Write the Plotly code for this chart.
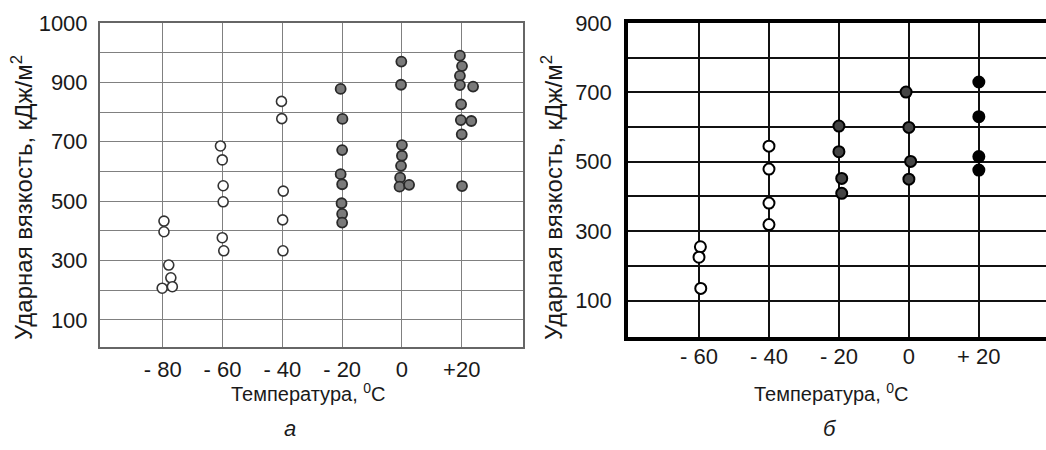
import plotly.graph_objects as go

# ---------- data: panel "а" ----------
a_open_t = [-79.6, -79.6, -78.0, -77.3, -80.2, -76.8,
            -60.7, -60.1, -59.8, -59.8, -60.1, -59.6,
            -40.3, -40.2, -39.7, -39.9, -39.8]
a_open_v = [433, 397, 285, 242, 207, 212,
            686, 639, 552, 498, 377, 333,
            836, 778, 534, 437, 333]
a_half_t = [-20.5, -19.9, -20.0, -20.5, -20.0, -20.2, -20.0, -20.0,
            -0.2, -0.3, 0.0, 0.0, -0.3, -0.6, -0.8, 2.4,
            19.4, 20.1, 19.4, 19.4, 23.8, 19.8, 19.7, 23.2, 20.0, 20.1]
a_half_v = [878, 777, 672, 591, 557, 493, 457, 428,
            970, 892, 689, 653, 619, 579, 549, 555,
            990, 955, 922, 891, 886, 826, 773, 770, 725, 551]

a_xticks = [-80, -60, -40, -20, 0, 20]
a_xtext = ["- 80", "- 60", "- 40", "- 20", "0", "+20"]
a_yticks = [100, 300, 500, 700, 900, 1100]
a_ytext = ["100", "300", "500", "700", "900", "1000"]
a_yminor = [200, 400, 600, 800, 1000]

# ---------- data: panel "б" ----------
b_open_t = [-59.6, -60.0, -59.5, -40.0, -40.0, -40.0, -40.0]
b_open_v = [255, 225, 135, 545, 479, 381, 319]
b_half_t = [-20.0, -20.0, -19.2, -19.2, -0.8, 0.0, 0.5, 0.0]
b_half_v = [603, 529, 452, 409, 701, 599, 501, 450]
b_full_t = [20.0, 20.0, 20.0, 20.0]
b_full_v = [730, 630, 515, 476]

b_xticks = [-60, -40, -20, 0, 20]
b_xtext = ["- 60", "- 40", "- 20", "0", "+ 20"]
b_yticks = [100, 300, 500, 700, 900]
b_ytext = ["100", "300", "500", "700", "900"]
b_yminor = [200, 400, 600, 800]

y_title = "Ударная вязкость, кДж/м<sup>2</sup>"
x_title = "Температура, <sup>0</sup>С"

FONT = "Liberation Sans, Arial, sans-serif"
W, H = 1046, 450

fig = go.Figure()

# panel a
fig.add_trace(go.Scatter(x=a_open_t, y=a_open_v, mode="markers", xaxis="x", yaxis="y",
                         marker=dict(symbol="circle", size=10, color="white",
                                     line=dict(color="#333333", width=1.6)),
                         showlegend=False))
fig.add_trace(go.Scatter(x=a_half_t, y=a_half_v, mode="markers", xaxis="x", yaxis="y",
                         marker=dict(symbol="circle", size=10, color="#7a7a7a",
                                     line=dict(color="#2a2a2a", width=1.8)),
                         showlegend=False))
# panel b
fig.add_trace(go.Scatter(x=b_open_t, y=b_open_v, mode="markers", xaxis="x2", yaxis="y2",
                         marker=dict(symbol="circle", size=11, color="white",
                                     line=dict(color="black", width=2)),
                         showlegend=False))
fig.add_trace(go.Scatter(x=b_half_t, y=b_half_v, mode="markers", xaxis="x2", yaxis="y2",
                         marker=dict(symbol="circle", size=11, color="#444444",
                                     line=dict(color="black", width=2)),
                         showlegend=False))
fig.add_trace(go.Scatter(x=b_full_t, y=b_full_v, mode="markers", xaxis="x2", yaxis="y2",
                         marker=dict(symbol="circle", size=11, color="black",
                                     line=dict(color="black", width=2)),
                         showlegend=False))

tickfont = dict(family=FONT, size=22, color="#1a1a1a")

fig.update_layout(
    width=W, height=H,
    margin=dict(l=0, r=0, t=0, b=0, autoexpand=False),
    paper_bgcolor="white", plot_bgcolor="white",
    xaxis=dict(domain=[100 / W, 523 / W], range=[-101, 40.5], automargin=False,
               tickvals=a_xticks, ticktext=a_xtext, tickfont=tickfont,
               showgrid=True, gridcolor="#808080", gridwidth=1,
               showline=True, linecolor="#666666", linewidth=2, mirror=True,
               ticks="", zeroline=False, ticklabelstandoff=2),
    yaxis=dict(domain=[1 - 347 / H, 1 - 23 / H], range=[9, 1100], automargin=False,
               tickvals=a_yticks, ticktext=a_ytext, tickfont=tickfont,
               showgrid=True, gridcolor="#808080", gridwidth=1,
               minor=dict(tickvals=a_yminor, showgrid=True, gridcolor="#808080",
                          gridwidth=1, ticks=""),
               showline=True, linecolor="#666666", linewidth=2, mirror=True,
               ticks="", zeroline=False, ticklabelstandoff=6),
    xaxis2=dict(domain=[628 / W, 1.0], range=[-80.3, 39.2], anchor="y2", automargin=False,
                tickvals=b_xticks, ticktext=b_xtext, tickfont=tickfont,
                showgrid=True, gridcolor="#111111", gridwidth=1.6,
                showline=True, linecolor="black", linewidth=3.5, mirror=True,
                ticks="", zeroline=False, ticklabelstandoff=-3),
    yaxis2=dict(domain=[1 - 337 / H, 1 - 23 / H], range=[-5, 900], anchor="x2", automargin=False,
                tickvals=b_yticks, ticktext=b_ytext, tickfont=tickfont,
                showgrid=True, gridcolor="#111111", gridwidth=1.6,
                minor=dict(tickvals=b_yminor, showgrid=True, gridcolor="#111111",
                           gridwidth=1.6, ticks=""),
                showline=True, linecolor="black", linewidth=3.5, mirror=False,
                ticks="", zeroline=False, ticklabelstandoff=8),
)

ytitle_font = dict(family=FONT, size=24, color="#1a1a1a")
xtitle_font = dict(family=FONT, size=20, color="#1a1a1a")
ann = [
    dict(text=y_title, x=22, y=198, textangle=-90, font=ytitle_font),
    dict(text=y_title, x=552, y=198, textangle=-90, font=ytitle_font),
    dict(text=x_title, x=308, y=392, font=xtitle_font),
    dict(text=x_title, x=831, y=392, font=xtitle_font),
]
for a in ann:
    fig.add_annotation(text=a["text"], x=a["x"] / W, y=1 - a["y"] / H,
                       xref="paper", yref="paper", showarrow=False,
                       textangle=a.get("textangle", 0), font=a["font"],
                       xanchor="center", yanchor="middle")
for letter, xx in [("а", 290), ("б", 830)]:
    fig.add_annotation(text="<i>" + letter + "</i>", x=xx / W, y=1 - 428 / H,
                       xref="paper", yref="paper", showarrow=False,
                       font=dict(family=FONT, size=22, color="#1a1a1a"),
                       xanchor="center", yanchor="middle")

fig.write_html("out.html", config={"displayModeBar": False},
               post_script="document.body.style.margin='0px';document.body.style.overflow='hidden';")
